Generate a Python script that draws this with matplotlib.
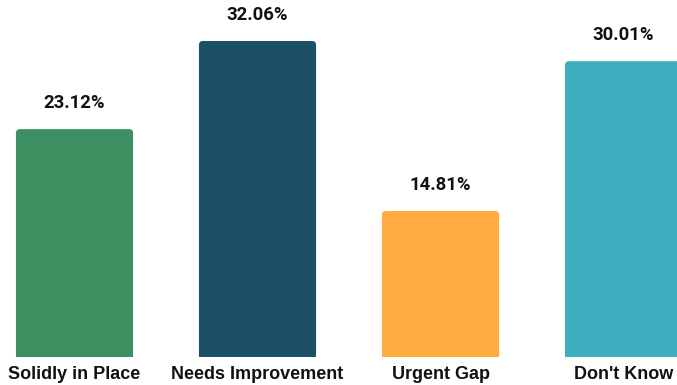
import matplotlib
matplotlib.use("Agg")

import matplotlib.pyplot as plt
from matplotlib.patches import FancyBboxPatch, Rectangle

categories = ["Solidly in Place", "Needs Improvement", "Urgent Gap", "Don't Know"]
values = [23.12, 32.06, 14.81, 30.01]
colors = ["#3d8f62", "#1b5066", "#ffab40", "#3daebd"]

fig = plt.figure(figsize=(6.77, 3.85), dpi=100)
ax = fig.add_axes([0, 0, 1, 1])

bar_width = 0.64
xs = list(range(len(categories)))

bars = ax.bar(xs, values, width=bar_width, color=colors)

ax.set_xlim(-0.407, 3.292)
ax.set_ylim(-2.84, 36.22)
ax.axis("off")

# swap plain bars for ones with rounded top corners
px_x = 183.0
px_y = 9.857
radius = 4 / px_x
for bar, c in zip(bars, colors):
    x0, w, h = bar.get_x(), bar.get_width(), bar.get_height()
    bar.set_visible(False)
    ax.add_patch(FancyBboxPatch((x0, 0), w, h,
                                boxstyle=f"round,pad=0,rounding_size={radius}",
                                mutation_aspect=px_x / px_y,
                                facecolor=c, edgecolor="none"))
    ax.add_patch(Rectangle((x0, 0), w, h / 2, facecolor=c, edgecolor="none"))

    ax.annotate(f"{h:.2f}%", (x0 + w / 2, h), xytext=(0, 19),
                textcoords="offset points", ha="center", va="center",
                fontsize=13.3, fontweight="bold", family=["Roboto", "DejaVu Sans"],
                color="#111111")

for x, cat in zip(xs, categories):
    ax.text(x, -1.75, cat, ha="center", va="center", fontsize=13,
            fontweight="bold", family=["Liberation Sans", "DejaVu Sans"],
            color="#111111")

fig.savefig("out.png", dpi=100)
